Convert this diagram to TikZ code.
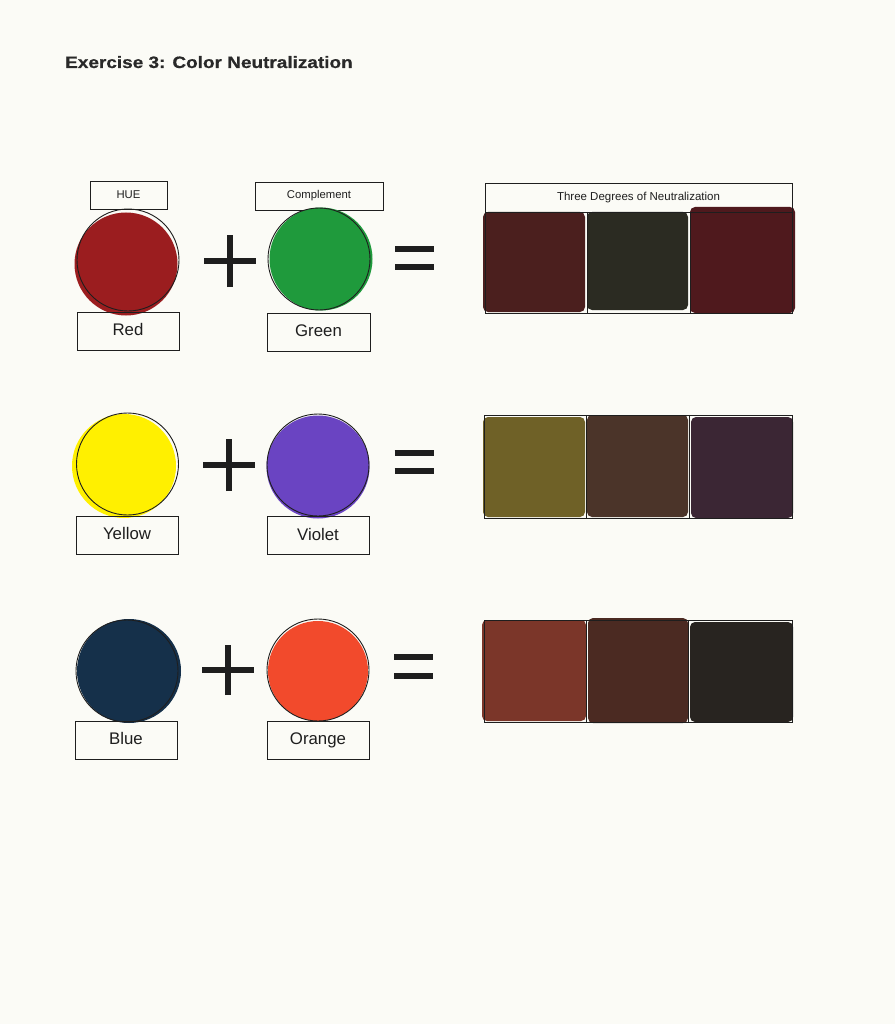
\documentclass[tikz,border=0pt]{standalone}
\usepackage{fontspec}
\setmainfont{Liberation Sans}
\newfontfamily\heavyfont[FakeBold=0.6]{Liberation Sans Bold}
\definecolor{paper}{HTML}{FBFBF6}
\definecolor{ink}{HTML}{1E1E1E}
\definecolor{pRed}{HTML}{9B1D1F}
\definecolor{pGreen}{HTML}{1F9A3C}
\definecolor{pYellow}{HTML}{FFF000}
\definecolor{pViolet}{HTML}{6A44C2}
\definecolor{pBlue}{HTML}{15304A}
\definecolor{pOrange}{HTML}{F24A2C}
\definecolor{sA1}{HTML}{4B1F1E}
\definecolor{sA2}{HTML}{2B2B22}
\definecolor{sA3}{HTML}{4F191D}
\definecolor{sB1}{HTML}{6F6127}
\definecolor{sB2}{HTML}{4B3429}
\definecolor{sB3}{HTML}{3B2634}
\definecolor{sC1}{HTML}{7B3629}
\definecolor{sC2}{HTML}{4B2A22}
\definecolor{sC3}{HTML}{282420}
\newcommand{\lbltxt}[1]{\raisebox{3pt}{#1}}
\begin{document}
\begin{tikzpicture}[x=1pt,y=-1pt,
  labelbox/.style={draw=ink,line width=0.8pt,rectangle,inner sep=0pt,minimum height=38pt,minimum width=102pt,font=\fontsize{16.8}{18}\selectfont,text=ink},
  smallbox/.style={draw=ink,line width=0.8pt,rectangle,inner sep=0pt,minimum height=28pt,font=\fontsize{11.3}{12}\selectfont,text=ink},
  paint/.style={circle,draw=ink,line width=0.9pt,minimum size=102pt,inner sep=0pt},
  sym/.style={line width=5.5pt,draw=ink},
  swatch/.style={rounded corners=5pt},
  grid/.style={draw=ink,line width=0.8pt}]
\fill[paper] (0,0) rectangle (895,1024);
\useasboundingbox (0,0) rectangle (895,1024);

\node[anchor=base west,inner sep=0pt,font=\heavyfont\fontsize{16.5}{18}\selectfont,text=ink!95] (title) at (65,68) {\scalebox{1.15}[1]{Exercise 3: Color Neutralization}};

% ---------- row 1 ----------
\node[smallbox,minimum width=77pt] (hue) at (128.5,195) {HUE};
\node[smallbox,minimum width=128pt] (comp) at (319,196) {Complement};
\fill[pRed] (126,264) circle (51.5);
\node[paint] (red) at (128,260) {};
\fill[pGreen] (321,259) circle (51.5);
\node[paint] (green) at (319,259) {};
\node[labelbox] (redL) at (128,331) {\lbltxt{Red}};
\node[labelbox,minimum width=103pt] (greenL) at (318.5,332) {\lbltxt{Green}};
\coordinate (p1) at (230,261);
\draw[sym] ([xshift=-26pt]p1) -- ([xshift=26pt]p1) ([yshift=-26pt]p1) -- ([yshift=26pt]p1);
\coordinate (e1) at (414.5,258);
\draw[sym] ([shift={(-19.5,-9)}]e1) -- ([shift={(19.5,-9)}]e1) ([shift={(-19.5,9)}]e1) -- ([shift={(19.5,9)}]e1);

\fill[sA1,swatch] (483,212) rectangle (585,312);
\fill[sA2,swatch] (587,212) rectangle (688,310);
\fill[sA3,swatch] (690,207) rectangle (795,313);
\node[grid,rectangle,minimum width=307pt,minimum height=29pt,inner sep=0pt,font=\fontsize{11.5}{12}\selectfont,text=ink] (head) at (638.5,197.5) {Three Degrees of Neutralization};
\coordinate (t1) at (485,212);
\coordinate (b1) at (792,313);
\draw[grid] (t1) rectangle (b1);
\draw[grid] (587,212) -- (587,313) (690,212) -- (690,313);

% ---------- row 2 ----------
\fill[pYellow] (124,466) circle (52);
\node[paint] (yellow) at (127.5,464) {};
\fill[pViolet] (318,467) circle (51.5);
\node[paint] (violet) at (318,465) {};
\node[labelbox] (yellowL) at (127,535) {\lbltxt{Yellow}};
\node[labelbox] (violetL) at (318,535.5) {\lbltxt{Violet}};
\coordinate (p2) at (229,465);
\draw[sym] ([xshift=-26pt]p2) -- ([xshift=26pt]p2) ([yshift=-26pt]p2) -- ([yshift=26pt]p2);
\coordinate (e2) at (414,462);
\draw[sym] ([shift={(-19.5,-9)}]e2) -- ([shift={(19.5,-9)}]e2) ([shift={(-19.5,9)}]e2) -- ([shift={(19.5,9)}]e2);

\fill[sB1,swatch] (483,417) rectangle (585,517);
\fill[sB2,swatch] (587,415) rectangle (688,517);
\fill[sB3,swatch] (691,417) rectangle (793,518);
\coordinate (t2) at (484,415);
\coordinate (b2) at (792,518);
\draw[grid] (t2) rectangle (b2);
\draw[grid] (586,415) -- (586,518) (689,415) -- (689,518);

% ---------- row 3 ----------
\fill[pBlue] (129,671) circle (52);
\node[paint] (blue) at (127,671) {};
\fill[pOrange] (318,671) circle (50);
\node[paint] (orange) at (318,670) {};
\node[labelbox] (blueL) at (126,740) {\lbltxt{Blue}};
\node[labelbox] (orangeL) at (318,740.5) {\lbltxt{Orange}};
\coordinate (p3) at (228,670);
\draw[sym] ([xshift=-26pt]p3) -- ([xshift=26pt]p3) ([yshift=-25pt]p3) -- ([yshift=25pt]p3);
\coordinate (e3) at (413.5,666.5);
\draw[sym] ([shift={(-19.5,-9.5)}]e3) -- ([shift={(19.5,-9.5)}]e3) ([shift={(-19.5,9.5)}]e3) -- ([shift={(19.5,9.5)}]e3);

\fill[sC1,swatch] (482,620) rectangle (586,721);
\fill[sC2,swatch] (588,618) rectangle (688,723);
\fill[sC3,swatch] (690,622) rectangle (793,722);
\coordinate (t3) at (484,620);
\coordinate (b3) at (792,722);
\draw[grid] (t3) rectangle (b3);
\draw[grid] (586,620) -- (586,722) (688,620) -- (688,722);
\end{tikzpicture}
\end{document}
